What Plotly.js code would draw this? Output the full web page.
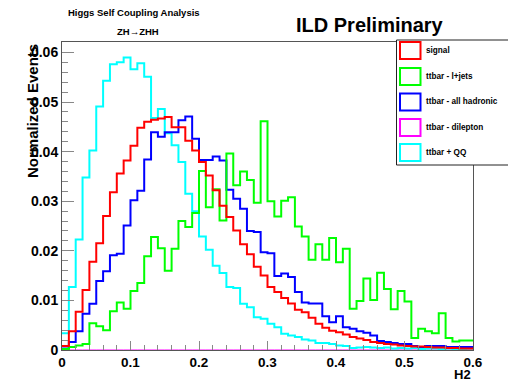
<!DOCTYPE html>
<html>
<head>
<meta charset="utf-8">
<script src="https://cdn.plot.ly/plotly-3.0.1.min.js"></script>
<style>html,body{margin:0;padding:0;background:#fff;}#chart{width:508px;height:384px;}</style>
</head>
<body>
<div id="chart"></div>
<script>
// ---- data (H2 histograms, 60 bins of width 0.01 from 0 to 0.6) ----
const binLow = 0.0;
const binWidth = 0.01;
const seriesNames = ["signal", "ttbar - l+jets", "ttbar - all hadronic", "ttbar - dilepton", "ttbar + QQ"];
const seriesColors = ["#ff0000", "#00ff00", "#0000ff", "#ff00ff", "#00ffff"];

const signal = [0.0008,0.0038,0.0077,0.0121,0.0178,0.0215,0.0270,0.0318,0.0356,0.0382,
  0.0412,0.0448,0.0460,0.0464,0.0467,0.0470,0.0449,0.0449,0.0422,0.0402,
  0.0379,0.0352,0.0322,0.0291,0.0268,0.0241,0.0213,0.0193,0.0168,0.0150,
  0.0127,0.0117,0.0105,0.0094,0.0081,0.0076,0.0065,0.0053,0.0045,0.0039,
  0.0036,0.0031,0.0026,0.0023,0.0020,0.0016,0.0014,0.0012,0.0011,0.0009,
  0.0008,0.0007,0.0007,0.0006,0.0005,0.0005,0.0004,0.0004,0.0003,0.0003];

const ttbarLJets = [0.0002,0.0006,0.0009,0.0012,0.0054,0.0048,0.0040,0.0078,0.0096,0.0083,
  0.0119,0.0135,0.0189,0.0228,0.0205,0.0160,0.0204,0.0260,0.0248,0.0276,
  0.0361,0.0288,0.0324,0.0261,0.0396,0.0332,0.0360,0.0343,0.0297,0.0461,
  0.0300,0.0269,0.0301,0.0308,0.0249,0.0229,0.0182,0.0213,0.0182,0.0226,
  0.0177,0.0204,0.0083,0.0099,0.0144,0.0101,0.0156,0.0123,0.0082,0.0119,
  0.0098,0.0024,0.0043,0.0038,0.0034,0.0074,0.0024,0.0017,0.0019,0.0019];

const ttbarHadronic = [0.0003,0.0016,0.0038,0.0073,0.0093,0.0139,0.0159,0.0191,0.0194,0.0251,
  0.0302,0.0321,0.0384,0.0439,0.0430,0.0439,0.0439,0.0463,0.0471,0.0426,
  0.0383,0.0383,0.0390,0.0382,0.0323,0.0305,0.0285,0.0240,0.0238,0.0197,
  0.0195,0.0149,0.0154,0.0147,0.0117,0.0096,0.0094,0.0094,0.0068,0.0056,
  0.0068,0.0046,0.0043,0.0038,0.0035,0.0029,0.0018,0.0016,0.0014,0.0012,
  0.0012,0.0008,0.0006,0.0008,0.0008,0.0008,0.0006,0.0006,0.0006,0.0006];

const ttbarDilepton = [0,0,0,0,0,0,0,0,0,0, 0,0,0,0,0,0,0,0,0,0,
  0,0,0,0,0,0,0,0,0,0, 0,0,0,0,0,0,0,0,0,0,
  0,0,0,0,0,0,0,0,0,0, 0,0,0,0,0,0,0,0,0,0];

const ttbarQQ = [0.0034,0.0127,0.0223,0.0348,0.0402,0.0491,0.0543,0.0576,0.0580,0.0590,
  0.0566,0.0578,0.0551,0.0468,0.0486,0.0437,0.0413,0.0379,0.0315,0.0280,
  0.0229,0.0202,0.0170,0.0155,0.0127,0.0125,0.0093,0.0086,0.0066,0.0063,
  0.0053,0.0046,0.0033,0.0029,0.0026,0.0021,0.0019,0.0014,0.0014,0.0012,
  0.0009,0.0008,0.0004,0.0005,0.0006,0.0005,0.0004,0.0005,0.0003,0.0004,
  0.0003,0.0004,0.0002,0.0003,0.0003,0.0002,0.0003,0.0002,0.0002,0.0003];

const seriesValues = [signal, ttbarLJets, ttbarHadronic, ttbarDilepton, ttbarQQ];
const lineWidths = [2, 2, 2, 1, 2];

const titleText = "Higgs Self Coupling Analysis";
const subTitleText = "ZH\u2192ZHH";
const labelText = "ILD Preliminary";
const xTitle = "H2";
const yTitle = "Normalized Events";

// ---- build step traces ----
function edgesFor(n) {
  const e = [];
  for (let i = 0; i <= n; i++) e.push(+(binLow + i * binWidth).toFixed(4));
  return e;
}
function stepY(vals) { return vals.concat([vals[vals.length - 1]]); }

const drawOrder = [3, 4, 2, 1, 0];
const traces = drawOrder.map(k => ({
  type: "scatter", mode: "lines",
  x: edgesFor(seriesValues[k].length),
  y: stepY(seriesValues[k]),
  name: seriesNames[k],
  line: {shape: "hv", color: seriesColors[k], width: lineWidths[k]},
  hoverinfo: "skip"
}));

// ---- layout geometry ----
const W = 508, H = 384;
const M = {l: 62, r: 35, t: 42, b: 34};
const PW = W - M.l - M.r, PH = H - M.t - M.b;
const px = v => (v - M.l) / PW;       // pixel x -> paper
const py = v => (H - M.b - v) / PH;   // pixel y -> paper

const FONT = "Liberation Sans, Arial, Helvetica, sans-serif";

const shapes = [];
const annotations = [];

// legend box
shapes.push({type: "rect", xref: "paper", yref: "paper", layer: "above",
  x0: px(396.5), x1: px(512), y0: py(165), y1: py(40),
  line: {color: "#222", width: 1}, fillcolor: "#ffffff"});
const legendY = [50.5, 76.5, 102, 127.5, 152.5];
seriesNames.forEach((nm, i) => {
  shapes.push({type: "rect", xref: "paper", yref: "paper", layer: "above",
    x0: px(400), x1: px(420.5), y0: py(legendY[i] + 8.5), y1: py(legendY[i] - 8.5),
    line: {color: seriesColors[i], width: 2}, fillcolor: "#ffffff"});
  annotations.push({xref: "paper", yref: "paper", x: px(424), y: py(legendY[i]),
    xanchor: "left", yanchor: "middle", showarrow: false, text: nm,
    font: {family: FONT, size: 8.2, weight: "bold", color: "#000"}});
});

// titles
annotations.push({xref: "paper", yref: "paper", x: px(134), y: py(12), xanchor: "center", yanchor: "middle",
  showarrow: false, text: titleText, font: {family: FONT, size: 9.5, weight: "bold", color: "#000"}});
annotations.push({xref: "paper", yref: "paper", x: px(138), y: py(32), xanchor: "center", yanchor: "middle",
  showarrow: false, text: subTitleText, font: {family: FONT, size: 9.5, weight: "bold", color: "#000"}});
annotations.push({xref: "paper", yref: "paper", x: px(370), y: py(25), xanchor: "center", yanchor: "middle",
  showarrow: false, text: labelText, font: {family: FONT, size: 20, weight: "bold", color: "#000"}});
// axis titles
annotations.push({xref: "paper", yref: "paper", x: 1, y: py(374.5), xanchor: "right", yanchor: "middle",
  showarrow: false, text: xTitle, font: {family: FONT, size: 13, weight: "bold", color: "#000"}});
annotations.push({xref: "paper", yref: "paper", x: px(32), y: py(42), xanchor: "center", yanchor: "top",
  textangle: -90, showarrow: false, text: yTitle, font: {family: FONT, size: 15, weight: "bold", color: "#000"}});

const layout = {
  width: W, height: H, margin: M,
  paper_bgcolor: "#ffffff", plot_bgcolor: "#ffffff",
  showlegend: false,
  xaxis: {range: [0, 0.6], tick0: 0, dtick: 0.1, ticks: "inside", ticklen: 9, tickwidth: 1, tickcolor: "#888",
    minor: {dtick: 0.02, ticks: "inside", ticklen: 5, tickwidth: 1, tickcolor: "#888", showgrid: false},
    showline: true, linecolor: "#555", linewidth: 1, mirror: true,
    showgrid: false, zeroline: false, tickfont: {family: FONT, size: 13.5, weight: "bold", color: "#000"}, fixedrange: true},
  yaxis: {range: [0, 0.0621], tick0: 0, dtick: 0.01, ticks: "inside", ticklen: 12, tickwidth: 1, tickcolor: "#888",
    minor: {dtick: 0.002, ticks: "inside", ticklen: 6, tickwidth: 1, tickcolor: "#888", showgrid: false},
    showline: true, linecolor: "#555", linewidth: 1, mirror: true,
    showgrid: false, zeroline: false, tickfont: {family: FONT, size: 14, weight: "bold", color: "#000"}, fixedrange: true},
  shapes: shapes,
  annotations: annotations
};

Plotly.newPlot("chart", traces, layout, {staticPlot: true, displayModeBar: false});
</script>
</body>
</html>
